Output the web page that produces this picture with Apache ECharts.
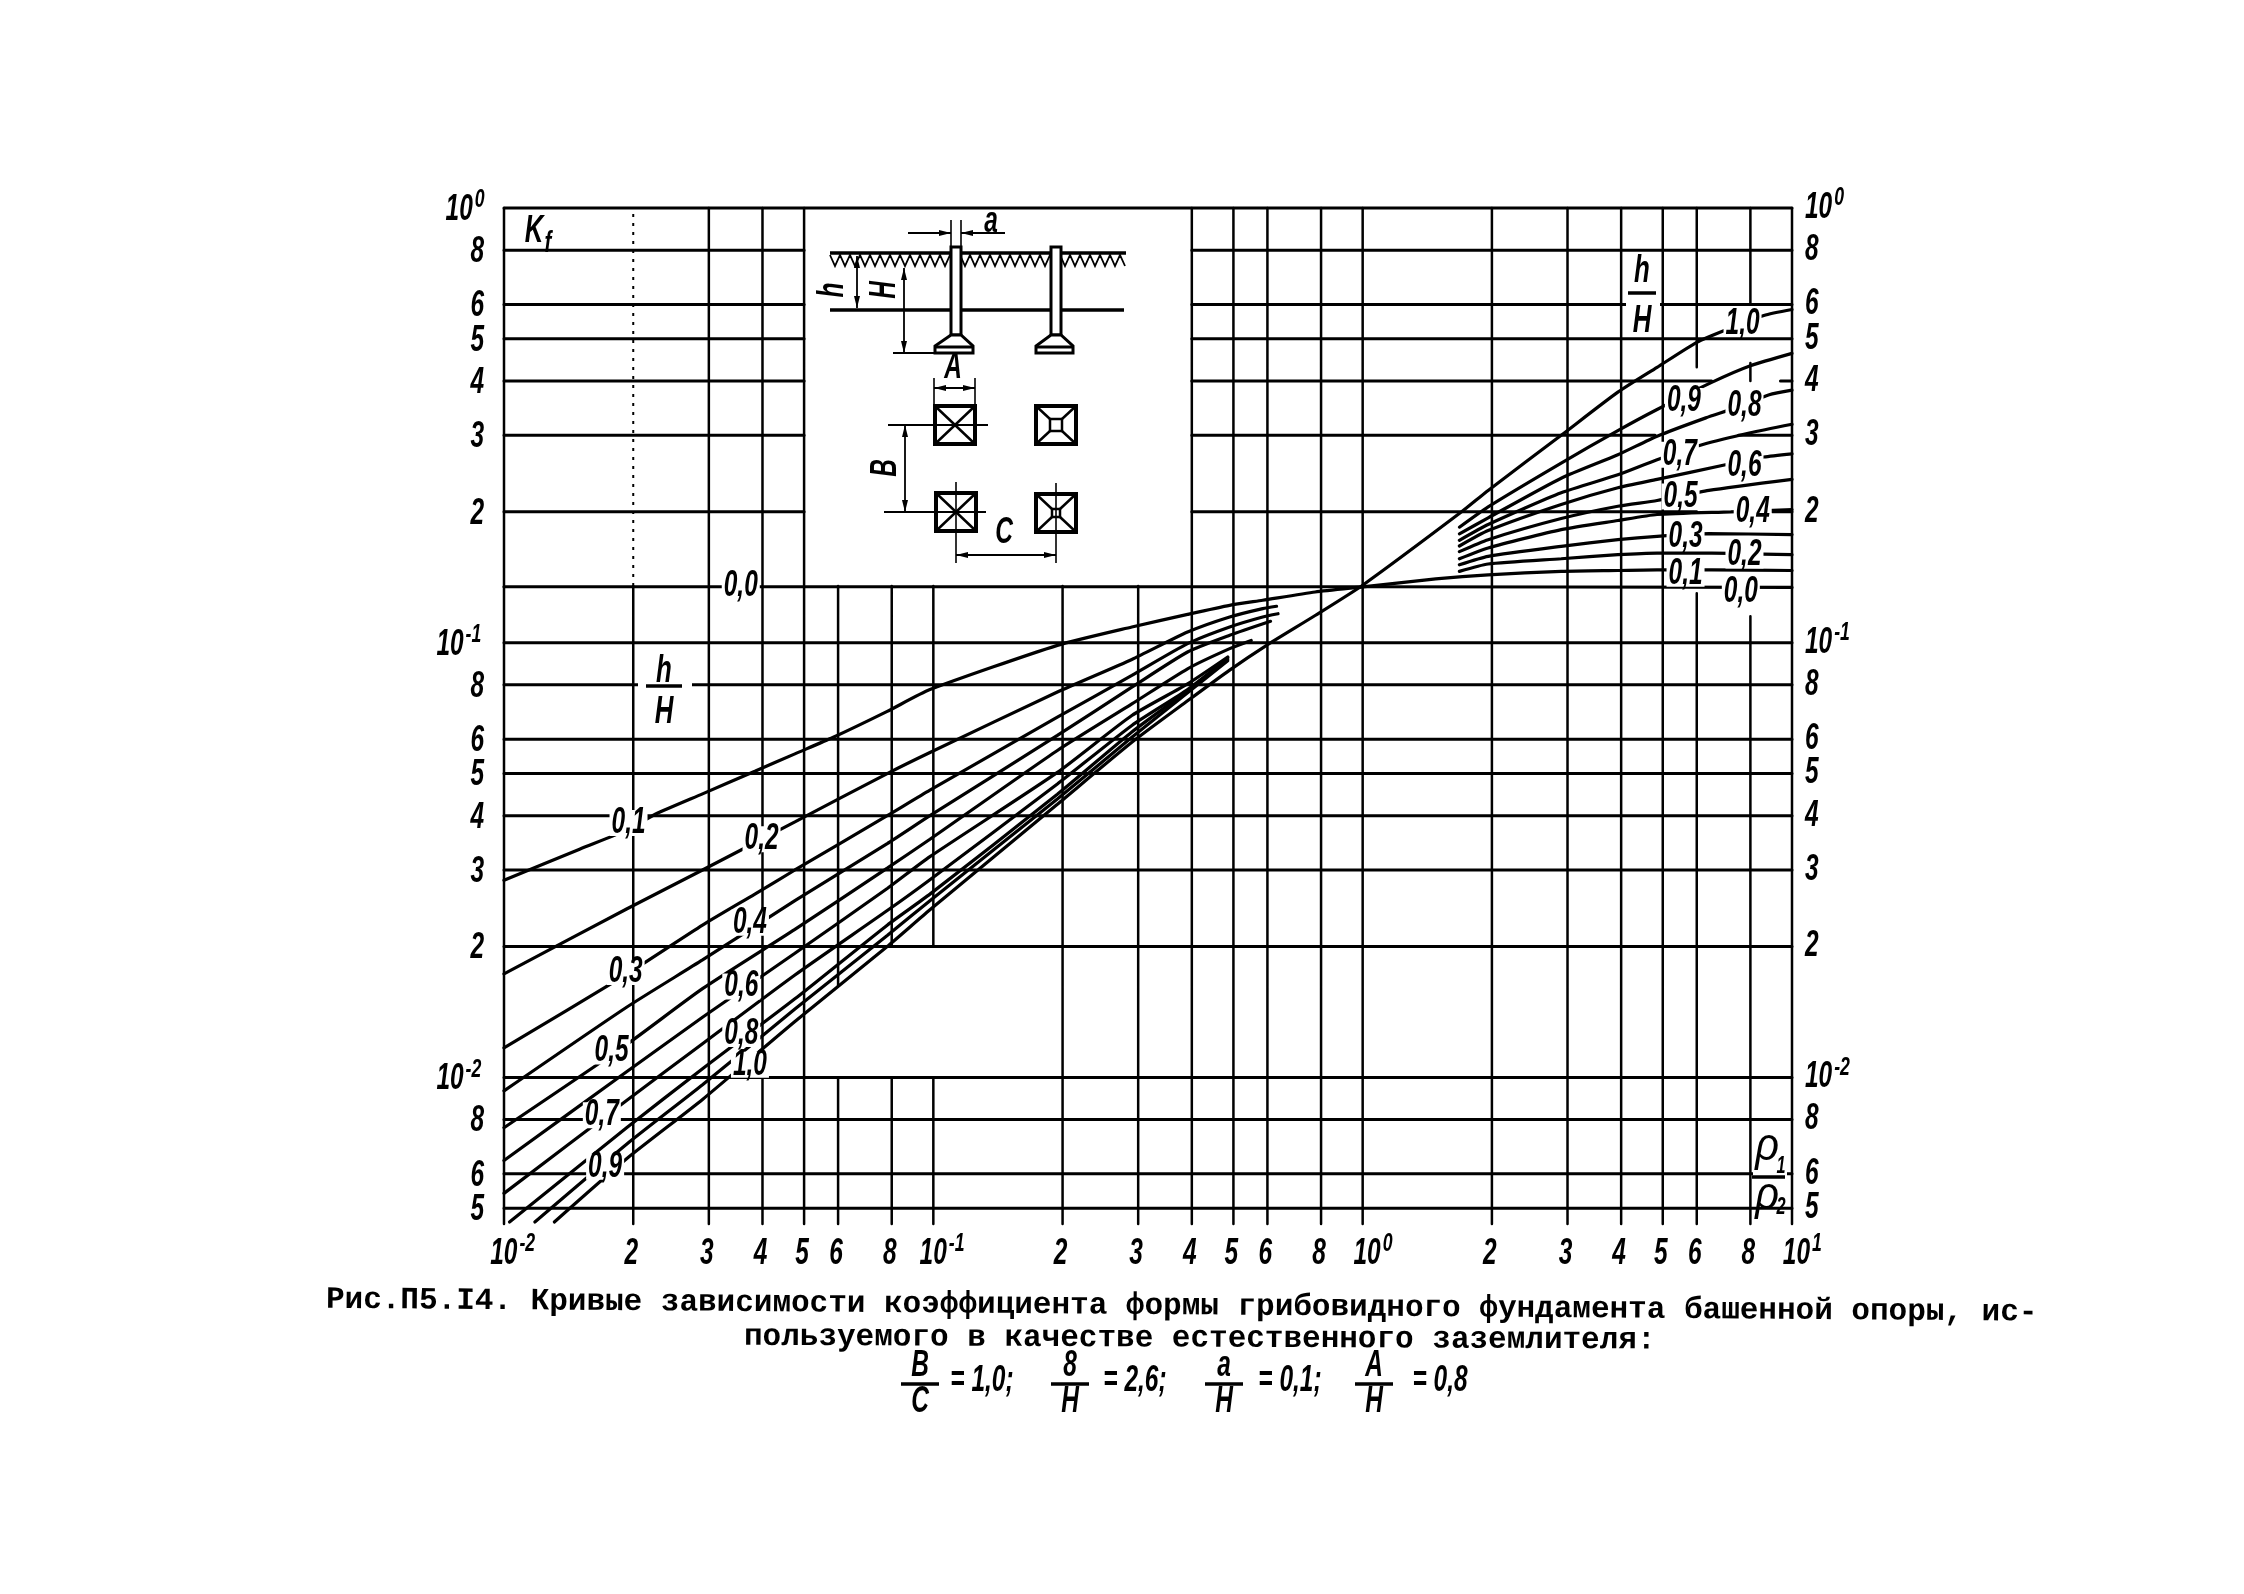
<!DOCTYPE html>
<html><head><meta charset="utf-8">
<style>html,body{margin:0;background:#fff}#c{width:2244px;height:1594px}</style>
<script src="https://cdn.jsdelivr.net/npm/echarts@6/dist/echarts.min.js"></script>
</head><body><div id="c"></div>
<script>
// ---- axes ----
const xMin = 0.01, xMax = 10, yMin = 0.0046, yMax = 1;
const xTickValues = [0.01,0.02,0.03,0.04,0.05,0.06,0.08,0.1,0.2,0.3,0.4,0.5,0.6,0.8,1,2,3,4,5,6,8,10];
const xTickLabels = ['10^-2','2','3','4','5','6','8','10^-1','2','3','4','5','6','8','10^0','2','3','4','5','6','8','10^1'];
const yTickValues = [1,0.8,0.6,0.5,0.4,0.3,0.2,0.1,0.08,0.06,0.05,0.04,0.03,0.02,0.01,0.008,0.006,0.005];
const yTickLabels = ['10^0','8','6','5','4','3','2','10^-1','8','6','5','4','3','2','10^-2','8','6','5'];

// ---- grid segments: [x, yFrom, yTo] and [y, xFrom, xTo] ----
const gridVertical = [
 [0.01,yMin,1],[0.02,yMin,0.135],[0.03,yMin,1],[0.04,yMin,1],[0.05,yMin,1],
 [0.06,yMin,0.01],[0.06,0.0162,0.135],[0.08,yMin,0.01],[0.08,0.02,0.135],[0.1,yMin,0.01],[0.1,0.02,0.135],
 [0.2,yMin,0.135],[0.3,yMin,0.135],[0.4,yMin,1],[0.5,yMin,1],[0.6,yMin,1],[0.8,yMin,1],[1,yMin,1],
 [2,yMin,1],[3,yMin,1],[4,yMin,1],[5,yMin,1],[6,yMin,0.13],[6,0.43,1],
 [8,yMin,0.115],[8,0.40,0.44],[8,0.6,1],[10,yMin,1]
];
const gridVerticalDotted = [[0.02,0.135,1]];
const gridHorizontal = [
 [1,0.01,10],[0.8,0.01,0.05],[0.8,0.4,10],[0.6,0.01,0.05],[0.6,0.4,10],[0.5,0.01,0.05],[0.5,0.4,10],
 [0.4,0.01,0.05],[0.4,0.4,6.5],[0.4,9.4,10],[0.3,0.01,0.05],[0.3,0.4,4.8],[0.3,7.5,10],
 [0.2,0.01,0.05],[0.2,0.4,6],[0.2,9,10],
 [0.1,0.01,10],[0.08,0.01,10],[0.06,0.01,10],[0.05,0.01,10],[0.04,0.01,10],[0.03,0.01,10],[0.02,0.01,10],
 [0.01,0.01,10],[0.008,0.01,10],[0.006,0.01,10],[0.005,0.01,10]
];

// ---- curves: Kf against rho1/rho2 for each h/H ----
const h00 = [[0.01,0.1345],[1,0.1345],[10,0.134]];
const h01 = [[0.01,0.0284],[0.015,0.0335],[0.0195,0.0372],[0.0225,0.0403],[0.029,0.0449],[0.0384,0.0506],[0.0476,0.0555],[0.0583,0.0605],[0.0781,0.0695],[0.0982,0.078],[0.1945,0.0986],[0.29,0.1087],[0.391,0.1162],[0.49,0.1219],[0.585,0.1252],[0.775,0.1308],[1,0.1344],[1.48,0.1402],[1.96,0.1433],[2.9,0.1459],[3.93,0.1466],[4.85,0.1471],[6.5,0.1471],[10,0.1466]];
const h02Low = [[0.01,0.0173],[0.0193,0.0244],[0.029,0.03],[0.0476,0.0387],[0.0781,0.05],[0.0982,0.0559],[0.1945,0.077],[0.29,0.0915],[0.391,0.1058],[0.49,0.1146],[0.585,0.1198],[0.63,0.1213]];
const h02High = [[1.68,0.1459],[1.96,0.1517],[2.9,0.156],[3.93,0.1594],[4.85,0.1608],[6.5,0.1608],[10,0.1594]];
const h03Low = [[0.01,0.01169],[0.0193,0.01726],[0.029,0.0224],[0.0384,0.0264],[0.0476,0.03],[0.0781,0.04],[0.0982,0.0458],[0.1945,0.0674],[0.29,0.0841],[0.391,0.0995],[0.49,0.1087],[0.585,0.1146],[0.635,0.1166]];
const h03High = [[1.68,0.1511],[1.96,0.158],[2.9,0.1666],[3.93,0.1726],[4.85,0.1757],[6.4,0.1782],[10,0.1773]];
const h04Low = [[0.01,0.00931],[0.0193,0.0145],[0.029,0.01863],[0.0476,0.0255],[0.0781,0.0345],[0.0982,0.04],[0.1945,0.0612],[0.29,0.079],[0.391,0.0952],[0.49,0.104],[0.61,0.112]];
const h04High = [[1.68,0.156],[1.96,0.1652],[2.9,0.182],[3.93,0.191],[4.85,0.1972],[7.2,0.2],[10,0.2025]];
const h05Low = [[0.01,0.00766],[0.0193,0.0119],[0.029,0.016],[0.0476,0.0219],[0.0781,0.0303],[0.0982,0.0353],[0.1945,0.0565],[0.29,0.0723],[0.391,0.0871],[0.49,0.0969],[0.55,0.1012]];
const h05High = [[1.68,0.162],[1.96,0.1726],[2.9,0.193],[3.93,0.206],[4.85,0.2124],[6.4,0.224],[10,0.2375]];
const h06Low = [[0.01,0.00644],[0.0193,0.0103],[0.029,0.01375],[0.0476,0.0193],[0.0781,0.0272],[0.0982,0.0322],[0.1945,0.0503],[0.29,0.068],[0.391,0.0804],[0.485,0.0927]];
const h06High = [[1.68,0.1669],[1.96,0.1811],[2.9,0.208],[3.93,0.2272],[4.85,0.2375],[7,0.2566],[8.6,0.2674],[10,0.272]];
const h07Low = [[0.01,0.00541],[0.0193,0.00885],[0.029,0.01195],[0.0476,0.0172],[0.0781,0.0242],[0.0982,0.0285],[0.1945,0.0473],[0.29,0.0645],[0.391,0.078],[0.485,0.0922]];
const h07High = [[1.68,0.172],[1.96,0.187],[2.9,0.2212],[3.93,0.2433],[4.85,0.2636],[6.2,0.2856],[8,0.304],[10,0.318]];
const h08Low = [[0.0103,0.00465],[0.0193,0.00766],[0.029,0.01047],[0.0476,0.01516],[0.0781,0.0224],[0.0982,0.0264],[0.1945,0.0448],[0.29,0.0623],[0.391,0.0775],[0.485,0.0915]];
const h08High = [[1.68,0.178],[1.96,0.1937],[2.9,0.239],[3.93,0.2706],[4.85,0.2985],[6.3,0.329],[7.4,0.347],[8.85,0.372],[10,0.381]];
const h09Low = [[0.0118,0.00465],[0.0193,0.00702],[0.029,0.00962],[0.0476,0.01436],[0.0781,0.0212],[0.0982,0.0255],[0.1945,0.0437],[0.29,0.0606],[0.391,0.0767],[0.485,0.0909]];
const h09High = [[1.68,0.1844],[1.96,0.2054],[2.9,0.259],[3.93,0.3076],[4.85,0.344],[6.5,0.397],[8,0.4335],[10,0.463]];
const h10 = [[0.0131,0.00465],[0.0193,0.0065],[0.029,0.0089],[0.0476,0.01345],[0.0781,0.02],[0.0982,0.0243],[0.1945,0.0425],[0.29,0.059],[0.391,0.0735],[0.49,0.0865],[0.596,0.0985],[0.775,0.1155],[1,0.1356],[1.7,0.2],[1.96,0.224],[2.9,0.3],[3.93,0.377],[4.85,0.43],[6,0.491],[7.1,0.527],[8.6,0.566],[10,0.584]];

// ---- curve labels: x, y, text ----
const curveLabels = [
 [0.0356,0.135,'0,0'],[0.0195,0.0385,'0,1'],[0.0398,0.0353,'0,2'],[0.0192,0.01747,'0,3'],[0.0374,0.0227,'0,4'],
 [0.0178,0.01147,'0,5'],[0.0357,0.01618,'0,6'],[0.0169,0.00818,'0,7'],[0.0357,0.01259,'0,8'],[0.0172,0.00623,'0,9'],[0.0374,0.0107,'1,0'],
 [7.67,0.541,'1,0'],[5.6,0.36,'0,9'],[7.75,0.35,'0,8'],[5.48,0.2707,'0,7'],[7.75,0.2543,'0,6'],[5.5,0.2168,'0,5'],
 [8.1,0.2,'0,4'],[5.65,0.175,'0,3'],[7.75,0.1587,'0,2'],[5.65,0.144,'0,1'],[7.6,0.1306,'0,0']
];

// ---- caption ----
const captionLine1 = 'Рис.П5.I4. Кривые зависимости коэффициента формы грибовидного фундамента башенной опоры, ис-';
const captionLine2 = 'пользуемого в качестве естественного заземлителя:';

const hand = 'Liberation Sans';
const NARROW = 0.68;
function hText(x,y,text,size,rot){ return {type:'text',x,y,scaleX:NARROW,rotation:rot||0,z2:5,
  style:{text,fontFamily:hand,fontStyle:'italic',fontWeight:'bold',fontSize:size,fill:'#000',align:'left',verticalAlign:'middle'}}; }
function tickItem(x,y,label,anchor){
  const p=label.split('^'), S=36, s2=26, dw=S*0.556*NARROW, dw2=s2*0.52*NARROW;
  const w=p[0].length*dw+(p[1]?p[1].length*dw2+2:0);
  const x0 = anchor==='center'? x-w/2+(p[1]?12:0) : anchor==='right'? x-w : x;
  const kids=[hText(x0,y,p[0],S)];
  if(p[1]) kids.push(hText(x0+p[0].length*dw+2,y-10,p[1],s2));
  return {type:'group',children:kids};
}
function segV(list){ const d=[]; list.forEach(s=>{d.push([s[0],s[1]],[s[0],s[2]],[s[0],'-']);}); return d; }
function segH(list){ const d=[]; list.forEach(s=>{d.push([s[1],s[0]],[s[2],s[0]],['-',s[0]]);}); return d; }
function lineS(name,data,w,z,extra){ return Object.assign({type:'line',name,data,symbol:'none',z,clip:false,silent:true,animation:false,
  lineStyle:{color:'#000',width:w,cap:'round'}},extra||{}); }
function curve(name,low,high){ return lineS(name,high?low.concat([[1.2,'-']],high):low,3.2,3,{smooth:0.2}); }
function tickSeries(name,data,labels,anchor,dx,dy){ return {type:'custom',name,coordinateSystem:'cartesian2d',z:5,clip:false,silent:true,data,
  renderItem:(params,api)=>{ const c=api.coord([api.value(0),api.value(1)]); return tickItem(c[0]+dx,c[1]+dy,labels[params.dataIndex],anchor); }}; }

const series = [
 lineS('gridV',segV(gridVertical),2.5,1),
 lineS('gridVDotted',segV(gridVerticalDotted),2,1,{lineStyle:{color:'#000',width:2,type:[3,6]}}),
 lineS('gridH',segH(gridHorizontal),3,1),
 curve('h/H=0.0',h00),curve('h/H=0.1',h01),
 curve('h/H=0.2',h02Low,h02High),curve('h/H=0.3',h03Low,h03High),curve('h/H=0.4',h04Low,h04High),
 curve('h/H=0.5',h05Low,h05High),curve('h/H=0.6',h06Low,h06High),curve('h/H=0.7',h07Low,h07High),
 curve('h/H=0.8',h08Low,h08High),curve('h/H=0.9',h09Low,h09High),curve('h/H=1.0',h10),
 {type:'custom',name:'curveLabels',coordinateSystem:'cartesian2d',z:6,clip:false,silent:true,data:curveLabels.map(c=>[c[0],c[1]]),
  renderItem:(params,api)=>{ const c=api.coord([api.value(0),api.value(1)]); const t=curveLabels[params.dataIndex][2];
    return {type:'group',children:[
      {type:'rect',shape:{x:c[0]-19,y:c[1]-13,width:38,height:26},style:{fill:'#fff'}},
      hText(c[0]-17,c[1],t,36)
    ]}; }},
 tickSeries('xTicks',xTickValues.map(v=>[v,yMin]),xTickLabels,'center',-2,30),
 tickSeries('yTicksLeft',yTickValues.map(v=>[xMin,v]),yTickLabels,'right',-20,2),
 tickSeries('yTicksRight',yTickValues.map(v=>[xMax,v]),yTickLabels,'left',13,0)
];

// ---- annotations: inset drawing and text ----
const G=[]; const Z=100;
const ln=(x1,y1,x2,y2,w=2.5)=>G.push({type:'line',z:Z,shape:{x1,y1,x2,y2},style:{stroke:'#000',lineWidth:w}});
const rc=(x,y,width,height,w=3.5,fill='#fff')=>G.push({type:'rect',z:Z,shape:{x,y,width,height},style:{stroke:w?'#000':null,lineWidth:w,fill}});
const tx=(x,y,text,size=36,rot=0,sx=NARROW)=>G.push({type:'text',z:Z+1,x,y,rotation:rot,scaleX:sx,originX:0,originY:0,
  style:{text,fontFamily:hand,fontStyle:'italic',fontWeight:'bold',fontSize:size,fill:'#000',align:'center',verticalAlign:'middle'}});
const mono=(x,y,text,rot)=>G.push({type:'text',z:Z+1,x,y,rotation:rot,originX:0,originY:0,
  style:{text,fontFamily:'Liberation Mono',fontWeight:'bold',fontSize:31,fill:'#000',align:'left',verticalAlign:'middle'}});
const arrow=(x,y,dx,dy)=>{ const px=-dy,py=dx; G.push({type:'polygon',z:Z,shape:{points:[[x,y],[x-dx*12+px*3,y-dy*12+py*3],[x-dx*12-px*3,y-dy*12-py*3]]},style:{fill:'#000'}}); };
function frac(cx,top,bar,bottom,a,b,halfW,size){ tx(cx,top,a,size); ln(cx-halfW,bar,cx+halfW,bar,3.5); tx(cx,bottom,b,size); }

// white gaps for the fraction labels
rc(1626,258,34,74,0); rc(638,650,54,80,0); rc(1753,1170,34,14,0); rc(1753,1195,34,8,0);
frac(1642,272,293,322,'h','H',14,38);
frac(664,672,686,713,'h','H',18,38);
ln(1752,1177,1785,1177,3.5);
G.push({type:'text',z:Z+1,x:1767,y:1147,scaleX:0.9,style:{text:'ρ',fontFamily:hand,fontStyle:'italic',fontSize:46,fill:'#000',align:'center',verticalAlign:'middle'}});
G.push({type:'text',z:Z+1,x:1767,y:1196,scaleX:0.9,style:{text:'ρ',fontFamily:hand,fontStyle:'italic',fontSize:46,fill:'#000',align:'center',verticalAlign:'middle'}});
tx(1781,1166,'1',24); tx(1781,1207,'2',24);
tx(534,232,'K',38); tx(548,244,'f',30);

// inset
ln(830,253,1126,253,3.5); ln(830,310,1124,310,3.5);
let zz=[]; for(let x=830;x<1126;x+=10){ zz.push([x,255],[x+5,266]); }
G.push({type:'polyline',z:Z,shape:{points:zz},style:{stroke:'#000',lineWidth:1.8,fill:null}});
[[956,935,973],[1056,1036,1073]].forEach(p=>{
  const c=p[0],l=p[1],r=p[2];
  rc(c-5,247,10,88,3,'#fff');
  G.push({type:'polygon',z:Z,shape:{points:[[c-5,335],[l,346],[l,353],[r,353],[r,346],[c+5,335]]},style:{stroke:'#000',lineWidth:3,fill:'#fff'}});
  ln(l,347,r,347,3);
});
// a
ln(951,220,951,247,1.6); ln(961,220,961,247,1.6); ln(908,233,951,233,1.8); ln(961,233,1005,233,1.8); arrow(951,233,1,0); arrow(961,233,-1,0);
tx(991,222,'a');
// h
ln(857,256,857,308,1.8); arrow(857,256,0,-1); arrow(857,308,0,1); tx(833,290,'h',36,Math.PI/2);
// H
ln(904,268,904,353,1.8); arrow(904,268,0,-1); arrow(904,353,0,1); ln(893,353,935,353,1.8); tx(885,290,'H',36,Math.PI/2);
// A
ln(934,378,934,405,1.6); ln(975,378,975,405,1.6); ln(934,388,975,388,1.8); arrow(934,388,-1,0); arrow(975,388,1,0); tx(953,368,'A');
// footings
function pad(cx,cy,inner){ const w=20,h=19; rc(cx-w,cy-h,2*w,2*h,4);
  ln(cx-w,cy-h,cx-inner,cy-inner); ln(cx+w,cy-h,cx+inner,cy-inner); ln(cx-w,cy+h,cx-inner,cy+inner); ln(cx+w,cy+h,cx+inner,cy+inner);
  if(inner) rc(cx-inner,cy-inner,2*inner,2*inner,2.5); }
pad(955,425,0); pad(1056,425,6); pad(956,512,0); pad(1056,513,4);
ln(888,425,988,425,2); ln(884,512,986,512,2);
ln(956,482,956,563,1.6); ln(1056,483,1056,563,1.6);
ln(905,425,905,512,1.8); arrow(905,425,0,-1); arrow(905,512,0,1); tx(886,468,'B',36,Math.PI/2);
ln(956,555,1056,555,1.8); arrow(956,555,-1,0); arrow(1056,555,1,0); tx(1004,533,'C');

// caption
mono(326,1300,captionLine1,-0.0075);
mono(744,1337,captionLine2,-0.004);
[[920,'B','C'],[1070,'8','H'],[1224,'a','H'],[1374,'A','H']].forEach(f=>frac(f[0],1366,1384,1402,f[1],f[2],19,36));
tx(982,1381,'= 1,0;'); tx(1135,1381,'= 2,6;'); tx(1290,1381,'= 0,1;'); tx(1440,1381,'= 0,8');

const chart = echarts.init(document.getElementById('c'),null,{renderer:'canvas'});
chart.setOption({
 animation:false, backgroundColor:'#fff',
 grid:{left:504,right:2244-1792,top:208,bottom:1594-1224,containLabel:false},
 xAxis:{type:'log',logBase:10,min:xMin,max:xMax,axisLine:{show:false},axisTick:{show:false},axisLabel:{show:false},splitLine:{show:false},minorSplitLine:{show:false}},
 yAxis:{type:'log',logBase:10,min:yMin,max:yMax,axisLine:{show:false},axisTick:{show:false},axisLabel:{show:false},splitLine:{show:false},minorSplitLine:{show:false}},
 series,
 graphic:{elements:G}
});
</script></body></html>
